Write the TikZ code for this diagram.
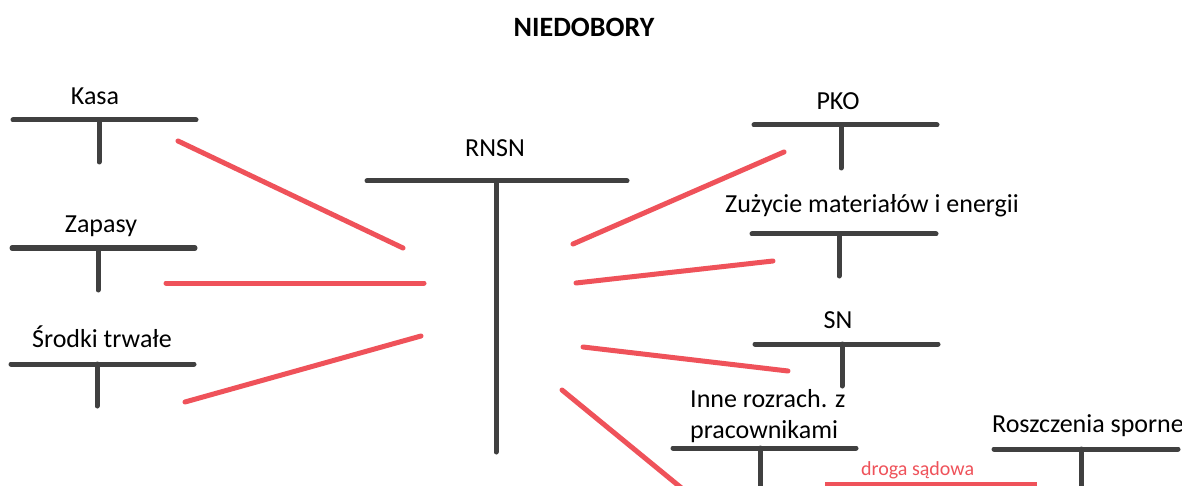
\documentclass[tikz,border=0pt]{standalone}
\usepackage{fontspec}
\setmainfont{Carlito}
\begin{document}
\begin{tikzpicture}[x=1pt,y=-1pt,
  acct/.style={draw=acctgray,line width=5pt,line cap=round},
  link/.style={draw=linkred,line width=5pt,line cap=round},
  lbl/.style={inner sep=0pt,anchor=base,font=\fontsize{26}{31}\selectfont,text=black},
  note/.style={inner sep=0pt,anchor=base west,font=\fontsize{20}{24}\selectfont,text=linkred}]
\definecolor{acctgray}{HTML}{404040}
\definecolor{linkred}{HTML}{EF525A}
\useasboundingbox[fill=white] (0,0) rectangle (1182,486);

% title
\node[lbl,font=\fontsize{28}{33}\selectfont\bfseries] (title) at (584,37) {NIEDOBORY};

% T-accounts: top bar ends and stem ends
\newcommand\taccount[6]{%
  \coordinate (#1-l) at (#2,#4);
  \coordinate (#1-r) at (#3,#4);
  \coordinate (#1-t) at (#5,#4);
  \coordinate (#1-b) at (#5,#6);
  \draw[acct] (#1-l) -- (#1-r);
  \draw[acct] (#1-t) -- (#1-b);}

\taccount{kasa}{13}{196}{120}{99}{162}
\taccount{zap}{12}{195}{248}{98}{290}
\taccount{st}{11}{194}{364}{97}{406}
\taccount{rnsn}{367}{627}{181}{496}{452}
\taccount{pko}{754}{937}{125}{841}{168}
\taccount{zuz}{752}{936}{234}{839}{276}
\taccount{sn}{755}{938}{344}{842}{386}
\taccount{inne}{673}{856}{448}{760}{500}
\taccount{rosz}{994}{1178}{449}{1081}{500}

% account names
\node[lbl] (kasaT) at (95,105) {Kasa};
\node[lbl] (zapT) at (101,233) {Zapasy};
\node[lbl] (stT) at (102,347) {Środki trwałe};
\node[lbl] (rnsnT) at (495,157) {RNSN};
\node[lbl] (pkoT) at (838,110) {PKO};
\node[lbl] (zuzT) at (872,213) {Zużycie materiałów i energii};
\node[lbl] (snT) at (838,328) {SN};
\node[lbl,anchor=base west] (inneT1) at (690,407) {Inne rozrach. z};
\node[lbl,anchor=base west] (inneT2) at (690,438) {pracownikami};
\node[lbl] (roszT) at (1088,432) {Roszczenia sporne};

% red links between accounts
\coordinate (a1) at (178,141);  \coordinate (b1) at (403,248);
\coordinate (a2) at (166,283);  \coordinate (b2) at (424,283);
\coordinate (a3) at (185,402);  \coordinate (b3) at (421,336);
\coordinate (a4) at (573,244);  \coordinate (b4) at (784,152);
\coordinate (a5) at (576,283);  \coordinate (b5) at (773,261);
\coordinate (a6) at (583,347);  \coordinate (b6) at (788,371);
\coordinate (a7) at (562,390);  \coordinate (b7) at (690,495);
\coordinate (a8) at (825,484);  \coordinate (b8) at (1037,484);
\draw[link] (a1) -- (b1);
\draw[link] (a2) -- (b2);
\draw[link] (a3) -- (b3);
\draw[link] (a4) -- (b4);
\draw[link] (a5) -- (b5);
\draw[link] (a6) -- (b6);
\draw[link] (a7) -- (b7);
\draw[link,line cap=butt] (a8) -- (b8);
\node[note] (droga) at (861,475) {droga sądowa};
\end{tikzpicture}
\end{document}
